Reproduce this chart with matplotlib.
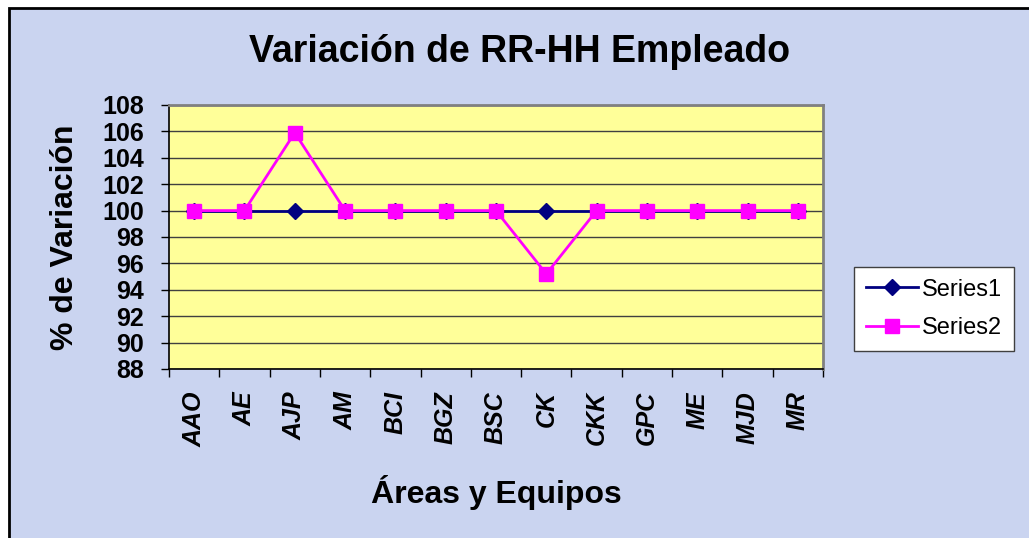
import matplotlib
matplotlib.use("Agg")
import matplotlib.pyplot as plt
from matplotlib.patches import Rectangle

categories = ["AAO", "AE", "AJP", "AM", "BCI", "BGZ", "BSC", "CK", "CKK",
              "GPC", "ME", "MJD", "MR"]
series1 = [100, 100, 100, 100, 100, 100, 100, 100, 100, 100, 100, 100, 100]
series2 = [100, 100, 105.9, 100, 100, 100, 100, 95.2, 100, 100, 100, 100, 100]
y_ticks = list(range(88, 109, 2))

FONT = "Liberation Sans"
BG = "#CAD4F0"

fig = plt.figure(figsize=(10.29, 5.38), dpi=100)
fig.patch.set_facecolor("white")
# chart area with black border (runs off the right/bottom edge)
fig.patches.append(Rectangle((9 / 1029, -0.05), 1.1, 1 - 8 / 538 + 0.05,
                             transform=fig.transFigure, facecolor=BG,
                             edgecolor="black", linewidth=2, zorder=-5))

ax = fig.add_axes([169 / 1029, 1 - 369 / 538, 654 / 1029, 264 / 538])
ax.set_facecolor("#FFFF99")

x = list(range(len(categories)))
ax.plot(x, series1, color="#000080", linewidth=2, marker="D", markersize=8,
        label="Series1", zorder=3)
ax.plot(x, series2, color="#FF00FF", linewidth=2, marker="s", markersize=10.5,
        label="Series2", zorder=4)

ax.set_xlim(-0.5, len(categories) - 0.5)
ax.set_ylim(88, 108)
ax.set_yticks(y_ticks)
ax.set_yticklabels([str(v) for v in y_ticks], fontsize=18, fontweight="bold",
                   family=FONT)
ax.yaxis.grid(True, color="#404040", linewidth=1)
ax.set_axisbelow(True)

ax.set_xticks([i - 0.5 for i in range(len(categories) + 1)])
ax.set_xticklabels([])
ax.set_xticks(x, minor=True)
ax.set_xticklabels(categories, minor=True, rotation=90, fontsize=18,
                   fontweight="bold", style="italic", family=FONT)
ax.tick_params(axis="x", which="minor", length=0, pad=16)
ax.tick_params(axis="x", which="major", length=6, width=1, direction="out")
ax.tick_params(axis="y", length=6, width=1, direction="out", pad=12)

for side in ("top", "right"):
    ax.spines[side].set_color("#808080")
    ax.spines[side].set_linewidth(2)
for side in ("left", "bottom"):
    ax.spines[side].set_color("black")
    ax.spines[side].set_linewidth(1.2)

fig.text(520 / 1029, 1 - 52 / 538, "Variación de RR-HH Empleado",
         fontsize=27, fontweight="bold", family=FONT, ha="center", va="center")
fig.text(65 / 1029, 1 - 237 / 538, "% de Variación", rotation=90,
         fontsize=23, fontweight="bold", family=FONT, ha="center", va="center")
fig.text(496 / 1029, 1 - 492 / 538, "Áreas y Equipos",
         fontsize=23, fontweight="bold", family=FONT, ha="center", va="center")

leg = fig.legend(loc="center", bbox_to_anchor=(934 / 1029, 1 - 309 / 538),
                 prop={"family": FONT, "size": 17}, frameon=True,
                 fancybox=False, edgecolor="#404040", facecolor="white",
                 framealpha=1, handlelength=2.2, handletextpad=0.2,
                 borderpad=0.5, labelspacing=0.7)
leg.get_frame().set_linewidth(1)

fig.savefig("out.png", dpi=100)
